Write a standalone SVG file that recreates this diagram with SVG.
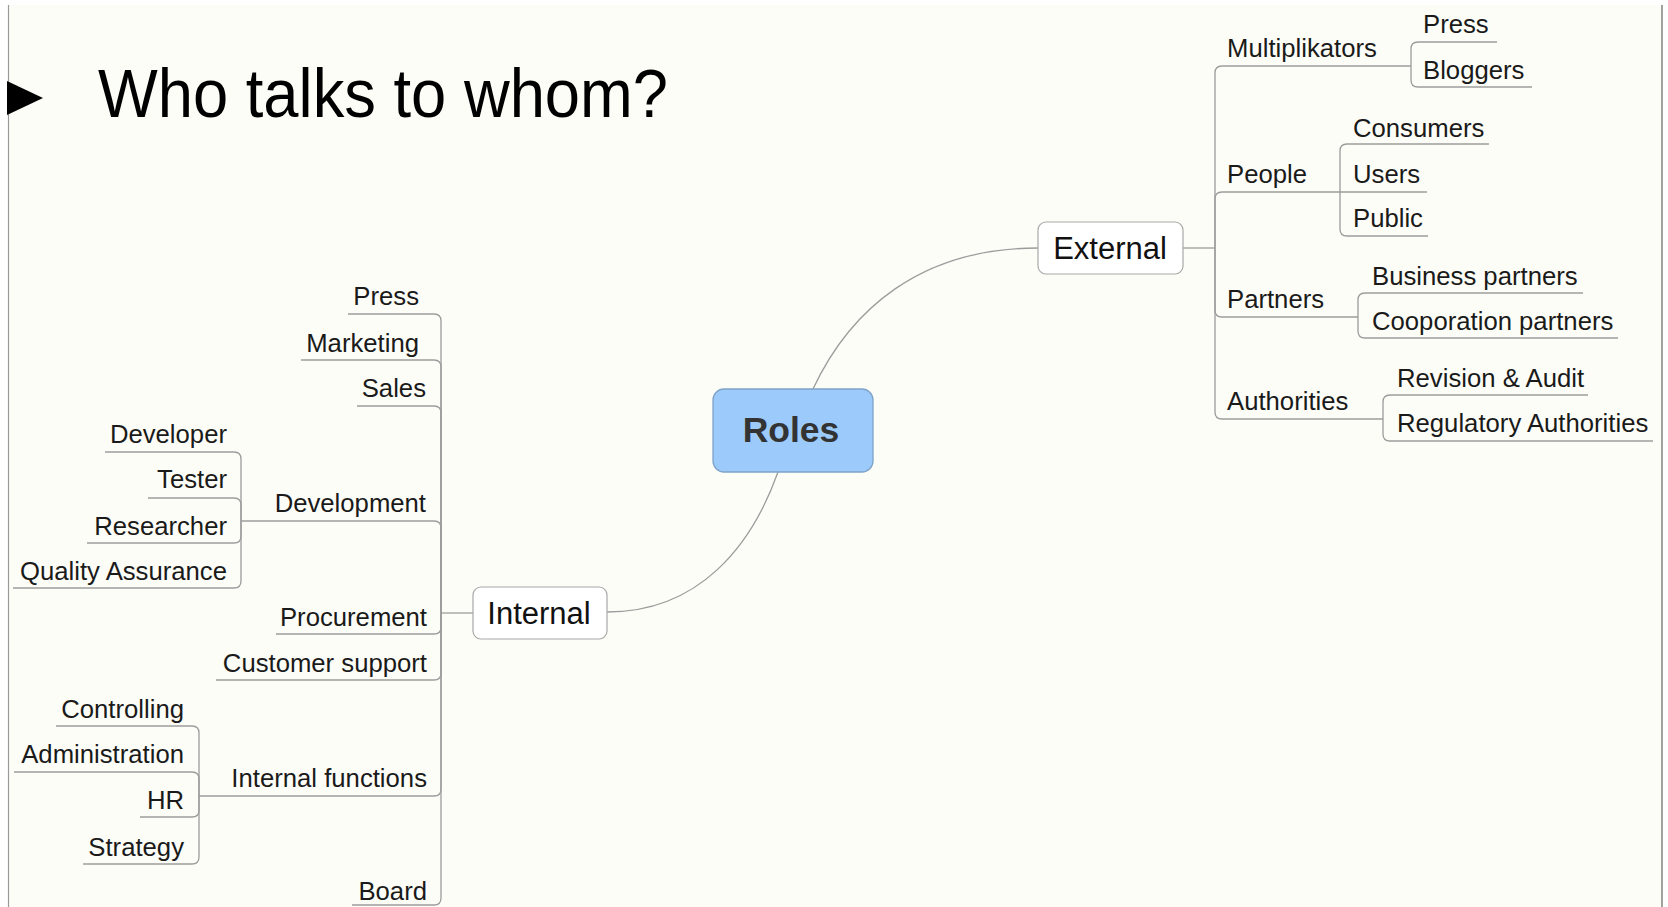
<svg xmlns="http://www.w3.org/2000/svg" width="1668" height="907" viewBox="0 0 1668 907">
<style>
.t{font-family:"Liberation Sans",Arial,sans-serif;font-size:25.7px;fill:#1a1a1a}
.e{text-anchor:end}
.c{fill:none;stroke:#9c9c9c;stroke-width:1.3}
.u{fill:none;stroke:#9c9c9c;stroke-width:1.3}
.box{fill:#ffffff;stroke:#a8a8a8;stroke-width:1.2}
.big{font-family:"Liberation Sans",Arial,sans-serif;font-size:31px;fill:#111;text-anchor:middle}
</style>
<rect x="0" y="0" width="1668" height="907" fill="#ffffff"/>
<rect x="8" y="5" width="1654" height="902" fill="#fdfdf7"/>
<line x1="8.5" y1="5" x2="8.5" y2="907" stroke="#9a9a9a" stroke-width="1.2"/>
<line x1="1662" y1="5" x2="1662" y2="907" stroke="#8a8a84" stroke-width="1.6"/>

<g id="title">
<polygon points="7,81 7,115 43,98" fill="#000"/>
<text x="98" y="117" font-family="'Liberation Sans',Arial,sans-serif" font-size="68" fill="#000" textLength="570" lengthAdjust="spacingAndGlyphs">Who talks to whom?</text>
</g>

<g id="connectors">
<path class="c" d="M813,389 C850,310 920,248 1038,248"/>
<path class="c" d="M778,472 C752,545 700,612 607,612"/>
<path class="c" d="M1183,248 H1215"/>
<path class="c" d="M1215,248 V73 Q1215,66 1222,66"/>
<path class="c" d="M1215,248 V199 Q1215,192 1222,192"/>
<path class="c" d="M1215,248 V310 Q1215,317 1222,317"/>
<path class="c" d="M1215,248 V412 Q1215,419 1222,419"/>
<path class="c" d="M1411,66 V49 Q1411,42 1418,42"/>
<path class="c" d="M1411,66 V80 Q1411,87 1418,87"/>
<path class="c" d="M1340,192 V151 Q1340,144 1347,144"/>
<path class="c" d="M1340,192 V229 Q1340,236 1347,236"/>
<path class="c" d="M1358,317 V300 Q1358,293 1365,293"/>
<path class="c" d="M1358,317 V331 Q1358,338 1365,338"/>
<path class="c" d="M1383,419 V402 Q1383,395 1390,395"/>
<path class="c" d="M1383,419 V434 Q1383,441 1390,441"/>
<path class="c" d="M473,613 H441"/>
<path class="c" d="M441,613 V321 Q441,314 434,314"/>
<path class="c" d="M441,613 V367 Q441,360 434,360"/>
<path class="c" d="M441,613 V413 Q441,406 434,406"/>
<path class="c" d="M441,613 V528 Q441,521 434,521"/>
<path class="c" d="M441,613 V627 Q441,634 434,634"/>
<path class="c" d="M441,613 V673 Q441,680 434,680"/>
<path class="c" d="M441,613 V789 Q441,796 434,796"/>
<path class="c" d="M441,613 V898 Q441,905 434,905"/>
<path class="c" d="M241,521 V459 Q241,452 234,452"/>
<path class="c" d="M241,521 V505 Q241,498 234,498"/>
<path class="c" d="M241,521 V536 Q241,543 234,543"/>
<path class="c" d="M241,521 V581 Q241,588 234,588"/>
<path class="c" d="M199,796 V733 Q199,726 192,726"/>
<path class="c" d="M199,796 V779 Q199,772 192,772"/>
<path class="c" d="M199,796 V810 Q199,817 192,817"/>
<path class="c" d="M199,796 V857 Q199,864 192,864"/>
</g>

<g id="roles">
<rect x="713" y="389" width="160" height="83" rx="11" fill="#9ccbfb" stroke="#7fa3c8" stroke-width="1.3"/>
<text x="791" y="442" font-family="'Liberation Sans',Arial,sans-serif" font-size="35.5" font-weight="bold" fill="#333" text-anchor="middle">Roles</text>
</g>
<g id="external">
<rect class="box" x="1038" y="222" width="145" height="52" rx="8"/>
<text class="big" x="1110" y="259">External</text>
</g>
<g id="internal">
<rect class="box" x="473" y="587" width="134" height="52" rx="8"/>
<text class="big" x="539" y="624">Internal</text>
</g>

<g id="multiplikators"><text class="t" x="1227" y="57">Multiplikators</text><path class="u" d="M1222,66 H1411"/></g>
<g id="press-ext"><text class="t" x="1423" y="33">Press</text><path class="u" d="M1418,42 H1497"/></g>
<g id="bloggers"><text class="t" x="1423" y="79">Bloggers</text><path class="u" d="M1418,87 H1532"/></g>
<g id="people"><text class="t" x="1227" y="183">People</text><path class="u" d="M1222,192 H1340"/></g>
<g id="consumers"><text class="t" x="1353" y="137">Consumers</text><path class="u" d="M1347,144 H1489"/></g>
<g id="users"><text class="t" x="1353" y="183">Users</text><path class="u" d="M1340,192 H1427"/></g>
<g id="public"><text class="t" x="1353" y="227">Public</text><path class="u" d="M1347,236 H1428"/></g>
<g id="partners"><text class="t" x="1227" y="308">Partners</text><path class="u" d="M1222,317 H1358"/></g>
<g id="business-partners"><text class="t" x="1372" y="285">Business partners</text><path class="u" d="M1365,293 H1583"/></g>
<g id="cooporation-partners"><text class="t" x="1372" y="330">Cooporation partners</text><path class="u" d="M1365,338 H1618"/></g>
<g id="authorities"><text class="t" x="1227" y="410">Authorities</text><path class="u" d="M1222,419 H1383"/></g>
<g id="revision-audit"><text class="t" x="1397" y="387">Revision &amp; Audit</text><path class="u" d="M1390,395 H1588"/></g>
<g id="regulatory-authorities"><text class="t" x="1397" y="432">Regulatory Authorities</text><path class="u" d="M1390,441 H1653"/></g>

<g id="press-int"><text class="t e" x="419" y="305">Press</text><path class="u" d="M348,314 H434"/></g>
<g id="marketing"><text class="t e" x="419" y="352">Marketing</text><path class="u" d="M301,360 H434"/></g>
<g id="sales"><text class="t e" x="426" y="397">Sales</text><path class="u" d="M357,406 H434"/></g>
<g id="development"><text class="t e" x="426" y="512">Development</text><path class="u" d="M241,521 H434"/></g>
<g id="procurement"><text class="t e" x="427" y="626">Procurement</text><path class="u" d="M276,634 H434"/></g>
<g id="customer-support"><text class="t e" x="427" y="672">Customer support</text><path class="u" d="M216,680 H434"/></g>
<g id="internal-functions"><text class="t e" x="427" y="787">Internal functions</text><path class="u" d="M199,796 H434"/></g>
<g id="board"><text class="t e" x="427" y="900">Board</text><path class="u" d="M352,905 H434"/></g>
<g id="developer"><text class="t e" x="227" y="443">Developer</text><path class="u" d="M105,452 H234"/></g>
<g id="tester"><text class="t e" x="227" y="488">Tester</text><path class="u" d="M148,498 H234"/></g>
<g id="researcher"><text class="t e" x="227" y="535">Researcher</text><path class="u" d="M87,543 H234"/></g>
<g id="quality-assurance"><text class="t e" x="227" y="580">Quality Assurance</text><path class="u" d="M13,588 H234"/></g>
<g id="controlling"><text class="t e" x="184" y="718">Controlling</text><path class="u" d="M56,726 H192"/></g>
<g id="administration"><text class="t e" x="184" y="763">Administration</text><path class="u" d="M14,772 H192"/></g>
<g id="hr"><text class="t e" x="184" y="809">HR</text><path class="u" d="M140,817 H192"/></g>
<g id="strategy"><text class="t e" x="184" y="856">Strategy</text><path class="u" d="M83,864 H192"/></g>
</svg>
